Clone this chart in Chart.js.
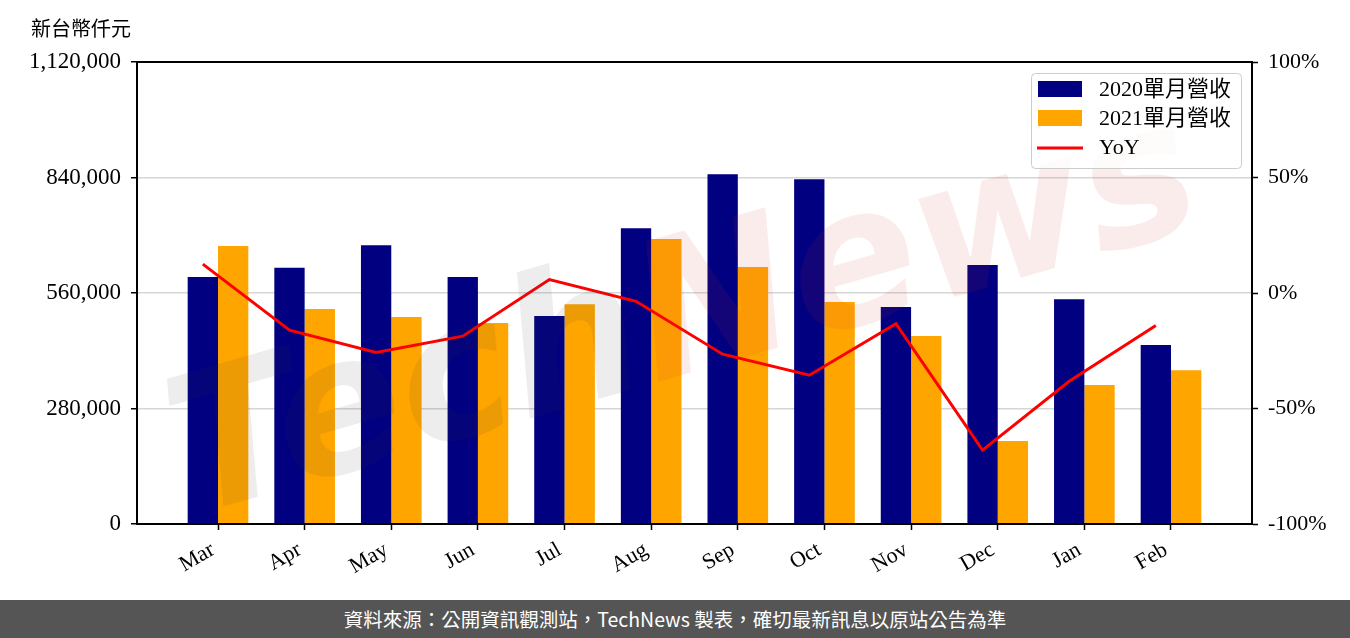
<!DOCTYPE html>
<html>
<head>
<meta charset="utf-8">
<script src="https://cdn.jsdelivr.net/npm/chart.js@4/dist/chart.umd.min.js"></script>
<style>
html,body{margin:0;padding:0;background:#fff;width:1350px;height:638px;overflow:hidden}
#wrap{position:relative;width:1350px;height:600px}
#unit{position:absolute;left:31px;top:13px;font-size:20px;font-family:"Liberation Serif","Noto Sans CJK TC",serif;color:#000;white-space:nowrap}
#footer{position:absolute;left:0;top:600px;width:1350px;height:38px;background:#555555;color:#fff;font-size:19.5px;font-family:"Noto Sans CJK TC",sans-serif;text-align:center;line-height:38px;white-space:nowrap}
</style>
</head>
<body>
<div id="wrap">
  <canvas id="c" width="1350" height="600"></canvas>
  <div id="unit">新台幣仟元</div>
</div>
<div id="footer">資料來源：公開資訊觀測站，TechNews 製表，確切最新訊息以原站公告為準</div>
<script>
// ---- data ----
const months = ['Mar','Apr','May','Jun','Jul','Aug','Sep','Oct','Nov','Dec','Jan','Feb'];
const rev2020 = [599000, 621000, 676000, 599000, 504000, 717000, 848000, 836000, 526000, 628000, 545000, 434000];
const rev2021 = [674000, 521000, 502000, 487000, 533000, 691000, 623000, 538000, 456000, 201000, 337000, 373000];
const yoy = [12.5, -16.1, -25.7, -18.7, 5.8, -3.6, -26.5, -35.6, -13.3, -68.0, -38.2, -14.1];
const leftTicks = [0, 280000, 560000, 840000, 1120000];
const rightTicks = [-100, -50, 0, 50, 100];
const seriesNames = ['2020單月營收', '2021單月營收', 'YoY'];

// ---- style ----
const FONT = '"Liberation Serif", "Noto Sans CJK TC", serif';
const BAR_W = 0.35;                 // bar width in category units
const X_MIN = -BAR_W - 0.585;       // axis margins
const X_MAX = months.length - 1 + BAR_W + 0.585;
const NAVY = '#000080', ORANGE = '#FFA500', RED = '#FF0000';

const frameAndWatermark = {
  id: 'frameAndWatermark',
  afterDatasetsDraw(chart) {
    const ctx = chart.ctx, a = chart.chartArea;
    ctx.save();
    ctx.beginPath(); ctx.rect(a.left, a.top, a.right - a.left, a.bottom - a.top); ctx.clip();
    ctx.translate(660, 330);
    ctx.rotate(-16 * Math.PI / 180);
    ctx.font = 'italic bold 190px "DejaVu Sans", sans-serif';
    ctx.textBaseline = 'middle';
    ctx.textAlign = 'right';
    ctx.fillStyle = 'rgba(60,60,60,0.09)';
    ctx.fillText('Tech', -20, 0);
    ctx.textAlign = 'left';
    ctx.fillStyle = 'rgba(215,40,40,0.09)';
    ctx.fillText('News', -20, 0);
    ctx.restore();
  },
  afterDraw(chart) {
    const ctx = chart.ctx, a = chart.chartArea;
    ctx.save();
    ctx.strokeStyle = '#000';
    ctx.lineWidth = 2;
    ctx.strokeRect(a.left, a.top, a.right - a.left, a.bottom - a.top);
    // legend
    const bx = a.right - 221, by = a.top + 11, bw = 210, bh = 95;
    ctx.fillStyle = 'rgba(255,255,255,0.8)';
    ctx.strokeStyle = '#cccccc';
    ctx.lineWidth = 1;
    ctx.beginPath();
    ctx.roundRect(bx + 0.5, by + 0.5, bw, bh, 4);
    ctx.fill(); ctx.stroke();
    const ds = chart.data.datasets;
    ctx.font = '22px ' + FONT;
    ctx.textBaseline = 'middle';
    ctx.textAlign = 'left';
    for (let i = 0; i < ds.length; i++) {
      const cy = by + 16 + i * 29;
      if (ds[i].type === 'line') {
        ctx.strokeStyle = ds[i].borderColor;
        ctx.lineWidth = 3;
        ctx.beginPath(); ctx.moveTo(bx + 6, cy + 1); ctx.lineTo(bx + 52, cy + 1); ctx.stroke();
      } else {
        ctx.fillStyle = ds[i].backgroundColor;
        ctx.fillRect(bx + 7, cy - 8, 44, 16);
      }
      ctx.fillStyle = '#000';
      ctx.fillText(ds[i].label, bx + 68, cy + 1);
    }
    ctx.restore();
  }
};

new Chart(document.getElementById('c'), {
  type: 'bar',
  data: {
    datasets: [
      { type: 'bar', label: seriesNames[0], data: months.map((m, i) => ({ x: i, y: rev2020[i] })),
        backgroundColor: NAVY, yAxisID: 'y', order: 2 },
      { type: 'bar', label: seriesNames[1], data: months.map((m, i) => ({ x: i, y: rev2021[i] })),
        backgroundColor: ORANGE, yAxisID: 'y', order: 2 },
      { type: 'line', label: seriesNames[2], data: months.map((m, i) => ({ x: i - BAR_W / 2, y: yoy[i] })),
        borderColor: RED, backgroundColor: RED, borderWidth: 3, pointRadius: 0, tension: 0,
        yAxisID: 'y2', order: 1 }
    ]
  },
  options: {
    responsive: false,
    animation: false,
    devicePixelRatio: 1,
    categoryPercentage: BAR_W * 2,
    barPercentage: 1,
    layout: { padding: { top: 62, left: 0, right: 0, bottom: 0 } },
    plugins: { legend: { display: false }, tooltip: { enabled: false } },
    scales: {
      x: {
        type: 'linear', min: X_MIN, max: X_MAX, bounds: 'data', offset: false,
        afterBuildTicks: s => { s.ticks = months.map((m, i) => ({ value: i })); },
        afterFit: s => { s.height = 76; },
        ticks: { callback: (v, i) => months[i], font: { family: FONT, size: 22 }, color: '#000',
                 minRotation: 30, maxRotation: 30, padding: 7, labelOffset: -5, autoSkip: false },
        grid: { offset: false, drawOnChartArea: false, drawTicks: true, tickLength: 6, tickColor: '#000', tickWidth: 1.5 },
        border: { display: true, color: '#000', width: 2 }
      },
      y: {
        type: 'linear', position: 'left', min: 0, max: 1120000,
        afterBuildTicks: s => { s.ticks = leftTicks.map(v => ({ value: v })); },
        afterFit: s => { s.width = 137; },
        ticks: { callback: v => v.toLocaleString('en-US'), font: { family: FONT, size: 23 }, color: '#000', padding: 10 },
        grid: { color: '#d6d6d6', lineWidth: 1.5, tickColor: '#000', tickLength: 6, tickWidth: 1.5 },
        border: { display: true, color: '#000', width: 2 }
      },
      y2: {
        type: 'linear', position: 'right', min: -100, max: 100,
        afterBuildTicks: s => { s.ticks = rightTicks.map(v => ({ value: v })); },
        afterFit: s => { s.width = 98; },
        ticks: { callback: v => v + '%', font: { family: FONT, size: 22 }, color: '#000', padding: 10 },
        grid: { drawOnChartArea: false, tickColor: '#000', tickLength: 6, tickWidth: 1.5 },
        border: { display: true, color: '#000', width: 2 }
      }
    }
  },
  plugins: [frameAndWatermark]
});
</script>
</body>
</html>
